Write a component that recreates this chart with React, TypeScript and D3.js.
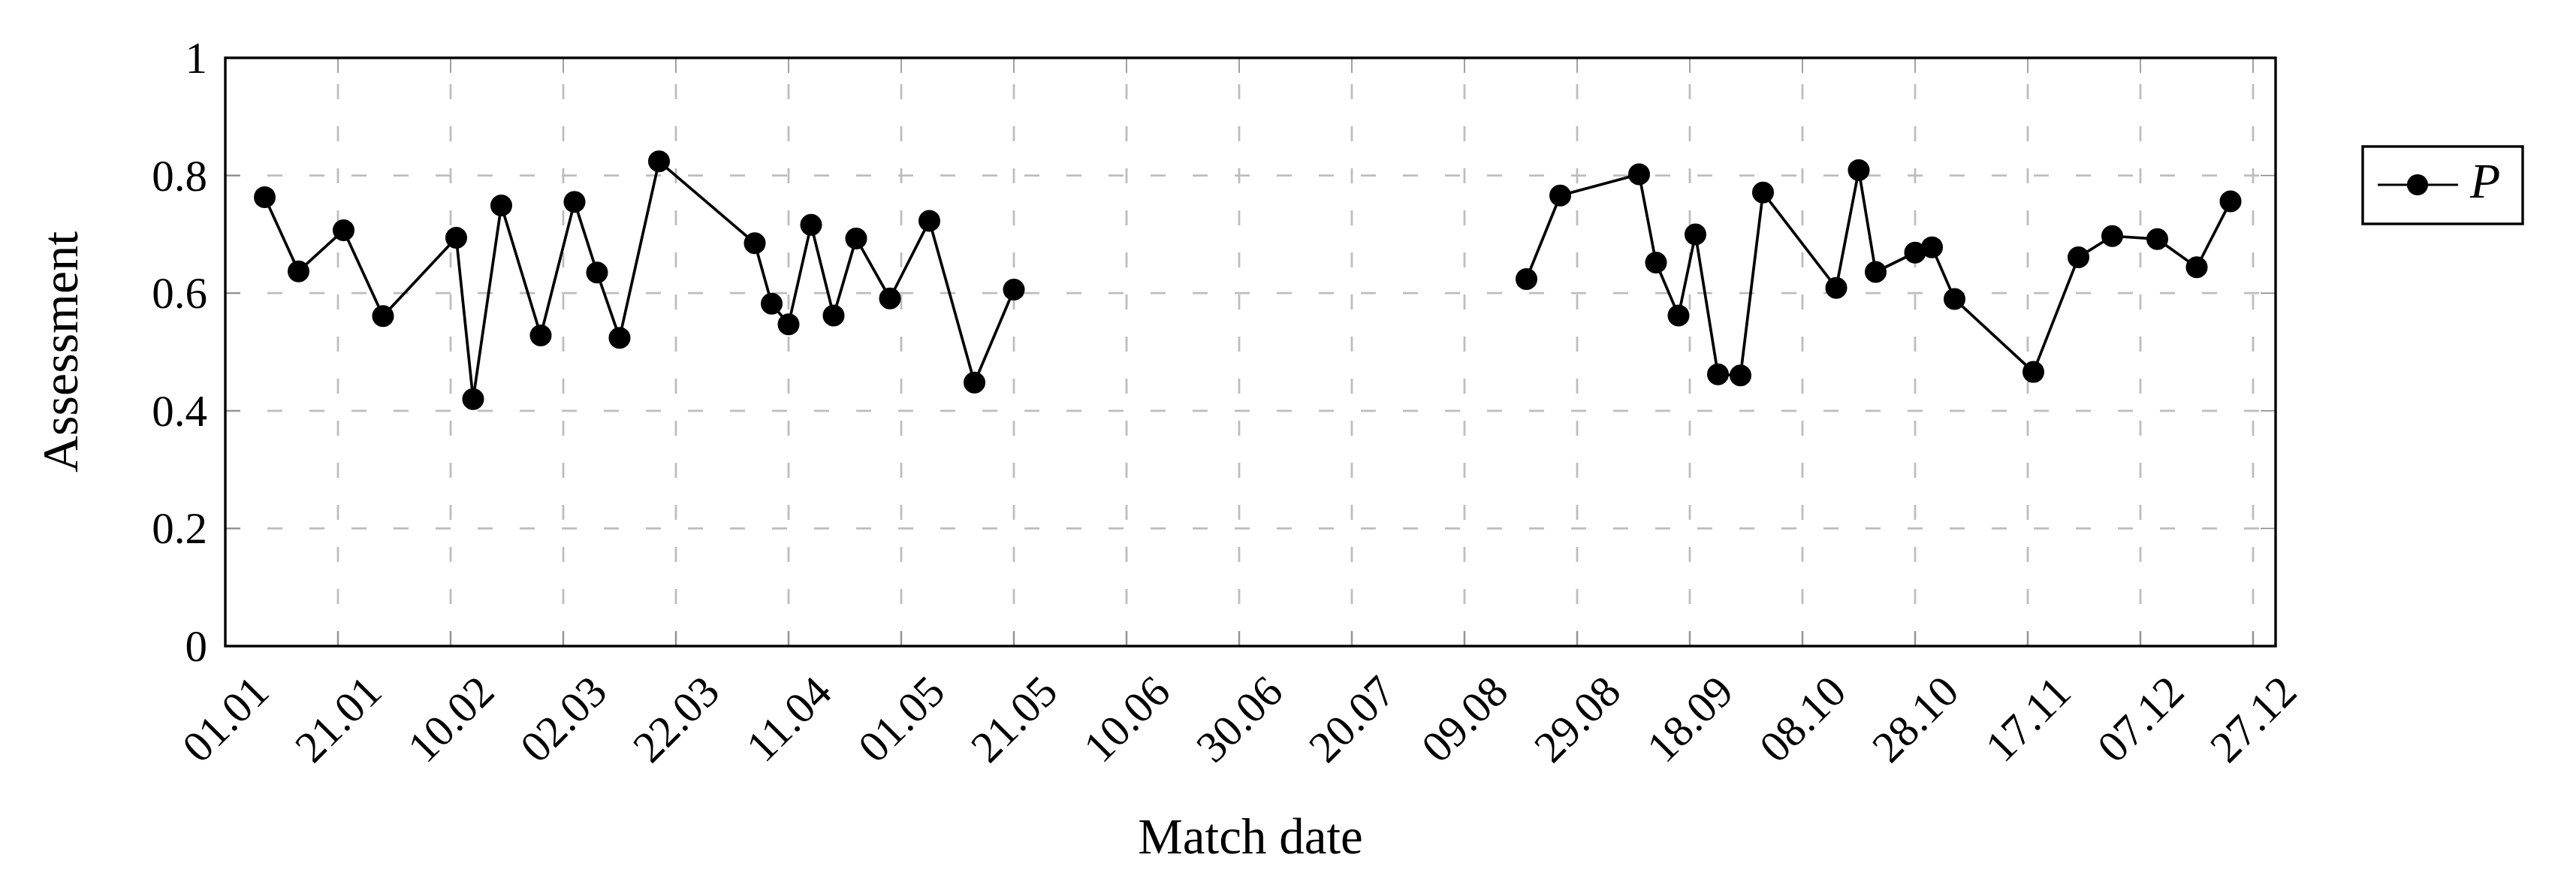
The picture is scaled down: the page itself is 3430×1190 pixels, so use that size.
import React from "react";
import * as d3 from "d3";

const YEAR = "2019";
const xDomainLabels = ["01.01", "31.12"];
const xTickLabels = ["01.01","21.01","10.02","02.03","22.03","11.04","01.05","21.05","10.06","30.06","20.07","09.08","29.08","18.09","08.10","28.10","17.11","07.12","27.12"];
const yTicks = [0, 0.2, 0.4, 0.6, 0.8, 1];
const yTickLabels = ["0", "0.2", "0.4", "0.6", "0.8", "1"];

const springDates = ["08.01","14.01","22.01","29.01","11.02","14.02","19.02","26.02","04.03","08.03","12.03","19.03","05.04","08.04","11.04","15.04","19.04","23.04","29.04","06.05","14.05","21.05"];
const springValues = [0.763,0.637,0.707,0.561,0.694,0.420,0.749,0.528,0.755,0.635,0.524,0.824,0.685,0.582,0.547,0.716,0.562,0.693,0.591,0.723,0.448,0.606];

const autumnDates = ["20.08","26.08","09.09","12.09","16.09","19.09","23.09","27.09","01.10","14.10","18.10","21.10","28.10","31.10","04.11","18.11","26.11","02.12","10.12","17.12","23.12"];
const autumnValues = [0.624,0.766,0.802,0.652,0.562,0.700,0.462,0.460,0.771,0.609,0.809,0.636,0.669,0.678,0.590,0.466,0.661,0.697,0.692,0.644,0.756];

const seriesName = "P";
const xLabel = "Match date";
const yLabel = "Assessment";

const parse = d3.timeParse("%d.%m.%Y");
const toDate = (s: string) => parse(`${s}.${YEAR}`) as Date;

const W = 3430, H = 1190;
const L = 300, R = 3030, T = 77, B = 860;
const FONT = "'Liberation Serif', 'Times New Roman', serif";

export default function App() {
  const x = d3.scaleTime().domain(xDomainLabels.map(toDate)).range([L, R]);
  const y = d3.scaleLinear().domain([0, 1]).range([B, T]);
  const line = d3.line<[Date, number]>().x(d => x(d[0])).y(d => y(d[1]));
  const segments: [Date, number][][] = [
    springDates.map((d, i) => [toDate(d), springValues[i]] as [Date, number]),
    autumnDates.map((d, i) => [toDate(d), autumnValues[i]] as [Date, number]),
  ];
  const gridColor = "#bdbdbd";
  const tickColor = "#8a8a8a";
  const tickLen = 20;
  return (
    <svg width={W} height={H} style={{ position: "absolute", left: 0, top: 0, display: "block", background: "#fff" }} fontFamily={FONT}>
      <rect x={0} y={0} width={W} height={H} fill="#fff" />
      {yTicks.slice(1, -1).map((v, i) => (
        <line key={"hg" + i} x1={L} x2={R} y1={y(v)} y2={y(v)} stroke={gridColor} strokeWidth={2.8} strokeDasharray="20 36" />
      ))}
      {xTickLabels.slice(1).map((s, i) => (
        <line key={"vg" + i} x1={x(toDate(s))} x2={x(toDate(s))} y1={B} y2={T} stroke={gridColor} strokeWidth={2.8} strokeDasharray="20 36" />
      ))}
      {yTicks.map((v, i) => (
        <g key={"yt" + i}>
          <line x1={L} x2={L + tickLen} y1={y(v)} y2={y(v)} stroke={tickColor} strokeWidth={1.6} />
          <line x1={R} x2={R - tickLen} y1={y(v)} y2={y(v)} stroke={tickColor} strokeWidth={1.6} />
        </g>
      ))}
      {xTickLabels.map((s, i) => (
        <g key={"xt" + i}>
          <line x1={x(toDate(s))} x2={x(toDate(s))} y1={B} y2={B - tickLen} stroke={tickColor} strokeWidth={1.6} />
          <line x1={x(toDate(s))} x2={x(toDate(s))} y1={T} y2={T + tickLen} stroke={tickColor} strokeWidth={1.6} />
        </g>
      ))}
      {segments.map((seg, i) => (
        <path key={"ln" + i} d={line(seg) || ""} fill="none" stroke="#000" strokeWidth={3.7} strokeLinejoin="round" />
      ))}
      {segments.map((seg, i) => seg.map((p, j) => (
        <circle key={`pt${i}-${j}`} cx={x(p[0])} cy={y(p[1])} r={14.5} fill="#000" />
      )))}
      <rect x={L} y={T} width={R - L} height={B - T} fill="none" stroke="#000" strokeWidth={3.4} />
      {yTicks.map((v, i) => (
        <text key={"yl" + i} x={L - 24} y={y(v)} textAnchor="end" dominantBaseline="central" fontSize={59} fill="#000">{yTickLabels[i]}</text>
      ))}
      {xTickLabels.map((s, i) => (
        <text key={"xl" + i} transform={`translate(${x(toDate(s))},957) rotate(-45)`} textAnchor="middle" dominantBaseline="central" fontSize={59} fill="#000">{s}</text>
      ))}
      <text x={(L + R) / 2} y={1136} textAnchor="middle" fontSize={67} fill="#000">{xLabel}</text>
      <text transform={`translate(103,${(T + B) / 2}) rotate(-90)`} textAnchor="middle" fontSize={68} fill="#000">{yLabel}</text>
      <rect x={3146} y={195} width={213} height={103} fill="#fff" stroke="#000" strokeWidth={3.4} />
      <line x1={3166} x2={3273} y1={246} y2={246} stroke="#000" strokeWidth={3} />
      <circle cx={3219} cy={246} r={14} fill="#000" />
      <text x={3289} y={263} fontSize={66} fontStyle="italic" fill="#000">{seriesName}</text>
    </svg>
  );
}
